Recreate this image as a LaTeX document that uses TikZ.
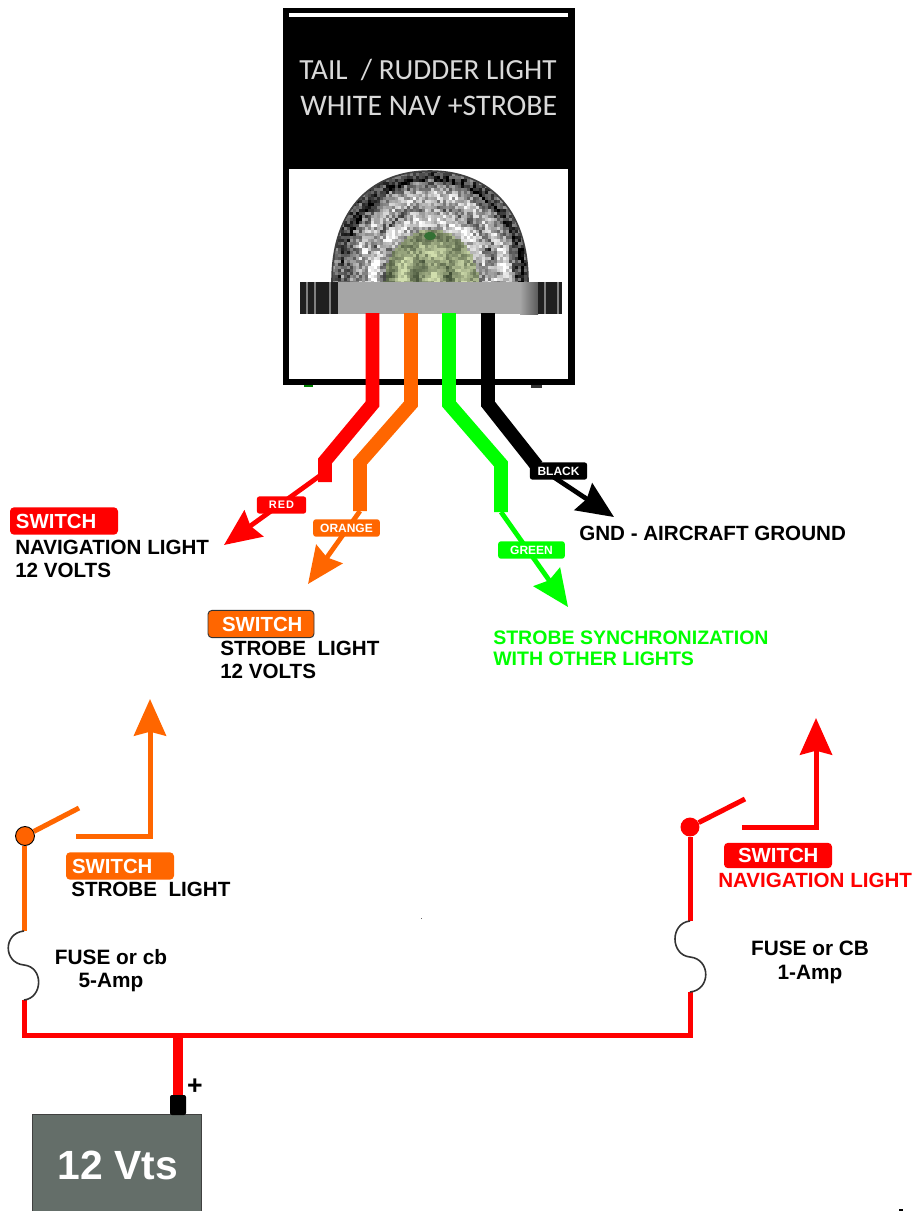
\documentclass[tikz,border=0pt]{standalone}
\usepackage{fontspec}
\setmainfont{Liberation Sans}
\newfontfamily\titlefont{Carlito}
\usetikzlibrary{arrows.meta}
\definecolor{wred}{RGB}{255,0,0}
\definecolor{worange}{RGB}{255,102,0}
\definecolor{wgreen}{RGB}{0,255,0}
\definecolor{batt}{RGB}{100,110,105}
\tikzset{
  x=0.75pt,y=-0.75pt,
  wirethick/.style={line width=10.3pt,miter limit=10,line join=miter},
  wirethin/.style={line width=3.6pt},
  headbig/.style={-{Stealth[length=27.5pt,width=24pt,inset=3pt]}},
  circuit/.style={line width=3.75pt,line join=miter},
  tagbox/.style={rounded corners=2pt,inner sep=0pt,text=white,font=\fontsize{9}{9}\selectfont\bfseries,minimum height=13pt},
  badge/.style={rounded corners=3pt,inner xsep=4.5pt,inner ysep=0pt,text width=72pt,align=left,text=white,minimum height=20.5pt,font=\fontsize{15.3}{15.3}\selectfont\bfseries},
  lbl/.style={anchor=base west,inner sep=0pt,font=\fontsize{15.45}{15.45}\selectfont\bfseries},
  lblc/.style={anchor=base,inner sep=0pt,font=\fontsize{15.6}{15.6}\selectfont\bfseries},
  lblg/.style={anchor=base west,inner sep=0pt,text=wgreen,font=\fontsize{14.65}{14.65}\selectfont\bfseries},
  fusecurve/.style={line width=1.2pt,draw=black!80},
  pivot/.style={circle,minimum size=14.2pt,inner sep=0pt},
}
\begin{document}
\begin{tikzpicture}
\useasboundingbox (0,0) rectangle (912,1211);
% ---------- lamp panel
\fill[black] (283,8) rectangle (575,385);
\fill[white] (289,13) rectangle (568,17);
\fill[white] (289,169) rectangle (568,379);
\node[anchor=base west,inner sep=0pt,text=black!15,font=\titlefont\fontsize{21.9}{21.9}\selectfont] (title1) at (299,79) {TAIL\ \ / RUDDER LIGHT};
\node[anchor=base west,inner sep=0pt,text=black!15,font=\titlefont\fontsize{22.4}{22.4}\selectfont] (title2) at (300,115) {WHITE NAV +STROBE};
% dome
\begin{scope}
\clip (332,282) .. controls (332,205) and (375,171) .. (430,171) .. controls (485,171) and (528,205) .. (528,282) -- cycle;
\pgfmathsetseed{11}
\foreach \i in {0,...,65}{\foreach \j in {0,...,37}{
  \pgfmathsetmacro\px{332+3*\i}
  \pgfmathsetmacro\py{170+3*\j}
  \pgfmathsetmacro\rr{veclen((\px-430)/98,(\py-282)/112)}
  \pgfmathsetmacro\base{0.60+0.16*sin(\rr*1500)+0.5*(rnd-0.5)}
  \pgfmathsetmacro\arch{(\rr>0.55 && \rr<0.66) ? 0.2 : 0}
  \pgfmathsetmacro\rim{(\rr>0.92) ? -0.4 : 0}
  \pgfmathsetmacro\strp{(\py>245) ? 0.2*sin(\px*11) : 0}
  \pgfmathsetmacro\vv{min(1,max(0,\base+\arch+\rim+\strp))}
  \pgfmathsetmacro\grn{(\rr<0.48) ? 1 : 0}
  \pgfmathsetmacro\vr{\grn*(0.6*\vv+0.22)+(1-\grn)*\vv}
  \pgfmathsetmacro\vg{\grn*(0.6*\vv+0.27)+(1-\grn)*\vv}
  \pgfmathsetmacro\vb{\grn*(0.5*\vv+0.18)+(1-\grn)*\vv}
  \definecolor{cell}{rgb}{\vr,\vg,\vb}
  \fill[cell] (\px,\py) rectangle ++(3.3,3.3);
}}
\fill[black!60!green!60!gray] (430,236) ellipse (6 and 4);
\end{scope}
\draw[black!75,line width=1.2pt] (332,282) .. controls (332,205) and (375,171) .. (430,171) .. controls (485,171) and (528,205) .. (528,282);
% base of lamp
\fill[black!35] (338,282) rectangle (520,314);
\shade[left color=black!35,right color=black!65] (520,282) rectangle (538,314);
\fill[black!88] (300,282) rectangle (338,314);
\fill[black!88] (538,282) rectangle (562,314);
\foreach \sx in {306,314,329,544,557}{\fill[black!50] (\sx,282) rectangle ++(2,32);}
% ---------- coordinates
\coordinate (redA) at (372.5,313);  \coordinate (redB) at (372.5,404);  \coordinate (redC) at (325,461);  \coordinate (redD) at (325,482);
\coordinate (redE) at (325,472);    \coordinate (redTip) at (224,545);
\coordinate (orA) at (411,313);     \coordinate (orB) at (411,404);     \coordinate (orC) at (360,462);   \coordinate (orD) at (360,511);
\coordinate (orTip) at (308,584);
\coordinate (grA) at (449,313);     \coordinate (grB) at (449,404);     \coordinate (grC) at (501,464);   \coordinate (grD) at (501,512);
\coordinate (grTip) at (568,607);
\coordinate (blA) at (488,313);     \coordinate (blB) at (488,404);     \coordinate (blC) at (537,466);
\coordinate (blTip) at (614,517);
% ---------- lamp wires
\draw[wred,wirethick] (redA) -- (redB) -- (redC) -- (redD);
\draw[wred,wirethin,headbig] (redE) -- (redTip);
\draw[worange,wirethick] (orA) -- (orB) -- (orC) -- (orD);
\draw[worange,wirethin,headbig] (orD) -- (orTip);
\draw[wgreen,wirethick] (grA) -- (grB) -- (grC) -- (grD);
\draw[wgreen,wirethin,headbig] (grD) -- (grTip);
\draw[black,wirethick] (blA) -- (blB) -- (blC);
\draw[black,wirethin,headbig] (blC) -- (blTip);
% wire tags
\node[tagbox,fill=wred,minimum width=37pt] (tagred) at (281.5,505) {\addfontfeature{LetterSpace=10}\fontsize{8.2}{8.2}\selectfont RED};
\node[tagbox,fill=worange,minimum width=50pt] (tagorange) at (346.5,528) {ORANGE};
\node[tagbox,fill=wgreen,minimum width=50pt] (taggreen) at (531.5,550) {GREEN};
\node[tagbox,fill=black,minimum width=43pt] (tagblack) at (558.5,471) {BLACK};
% destination labels
\node[badge,fill=wred] (swNav) at (64,521) {SWITCH};
\node[lbl] (navA) at (15,554) {NAVIGATION LIGHT};
\node[lbl] (navB) at (15,577) {12 VOLTS};
\node[badge,fill=worange,draw=black!80,line width=0.7pt,inner xsep=10.5pt,text width=58.5pt] (swStr) at (261,624) {SWITCH};
\node[lbl] (strA) at (220,655) {STROBE\ \ LIGHT};
\node[lbl] (strB) at (220,678) {12 VOLTS};
\node[lbl] (gnd) at (579,540) {GND - AIRCRAFT GROUND};
\node[lblg] (syncA) at (493,644) {STROBE SYNCHRONIZATION};
\node[lblg] (syncB) at (493,665) {WITH OTHER LIGHTS};
% ---------- circuit: coordinates
\coordinate (busL) at (24,1035);    \coordinate (busR) at (690,1035);   \coordinate (busM) at (178,1035);
\coordinate (fLtop) at (24,931);    \coordinate (fLbot) at (24,1000);
\coordinate (fRtop) at (690,921);   \coordinate (fRbot) at (690,992);
\node[pivot,fill=worange!80!red!90!yellow,draw=black,line width=0.7pt] (pivL) at (25,836) {};
\node[pivot,fill=wred] (pivR) at (690,827) {};
\coordinate (armL) at (79,808);     \coordinate (armR) at (745,799);
\coordinate (conL) at (76,836);     \coordinate (conLb) at (150,836);   \coordinate (tipL) at (150,699);
\coordinate (conR) at (742,827);    \coordinate (conRb) at (816,827);   \coordinate (tipR) at (816,718);
% circuit wires
\draw[wred,circuit] (fLbot) -- (busL) -- (busR) -- (fRbot);
\draw[wred,circuit] (fRtop) -- (pivR);
\draw[worange,circuit] (fLtop) -- (fLtop |- pivL.south);
\draw[worange,circuit] (pivL) -- (armL);
\draw[wred,circuit] (pivR) -- (armR);
\draw[worange,circuit,headbig] (conL) -- (conLb) -- (tipL);
\draw[wred,circuit,headbig] (conR) -- (conRb) -- (tipR);
% fuses
\draw[fusecurve] (fLtop) .. controls (3,933) and (3,963) .. (24,965) .. controls (44,967) and (43,998) .. (fLbot);
\draw[fusecurve] (fRtop) .. controls (670,923) and (670,955) .. (690,957) .. controls (711,959) and (711,990) .. (fRbot);
% circuit labels
\node[badge,fill=worange] (swL) at (120,866) {SWITCH};
\node[lbl] (swLt) at (71,896) {STROBE\ \ LIGHT};
\node[lblc] (fuseLa) at (111,964) {FUSE or cb};
\node[lblc] (fuseLb) at (111,987) {5-Amp};
\node[badge,fill=wred,inner xsep=10.5pt,text width=60pt,minimum height=19pt] (swR) at (778,855.5) {SWITCH};
\node[lbl,text=wred] (swRt) at (718,887) {NAVIGATION LIGHT};
\node[lblc] (fuseRa) at (810,955) {FUSE or CB};
\node[lblc] (fuseRb) at (810,979) {1-Amp};
% battery
\node[draw=black!75,fill=batt,line width=0.6pt,minimum width=126.5pt,minimum height=74pt,inner sep=0pt,anchor=north west,text=white] (bat) at (32,1114) {};
\node[anchor=base,inner sep=0pt,text=white,font=\fontsize{30.6}{30.6}\selectfont\bfseries] (batT) at (118,1179) {12 Vts};
\fill[black,rounded corners=1.5pt] (170,1115) rectangle (186,1095);
\coordinate (term) at (178,1095);
\draw[wred,line width=7.5pt] (busM) -- (term);
\node[lblc,font=\fontsize{20}{20}\selectfont\bfseries] (plus) at (195,1094) {+};
% specks
\fill[black!60] (421,918) rectangle ++(1,1);
\fill[black] (899,1209) rectangle ++(4,2);
\fill[green!50!black] (304,385) rectangle ++(9,2);
\fill[black!80] (531,385) rectangle ++(11,3);
\end{tikzpicture}
\end{document}
